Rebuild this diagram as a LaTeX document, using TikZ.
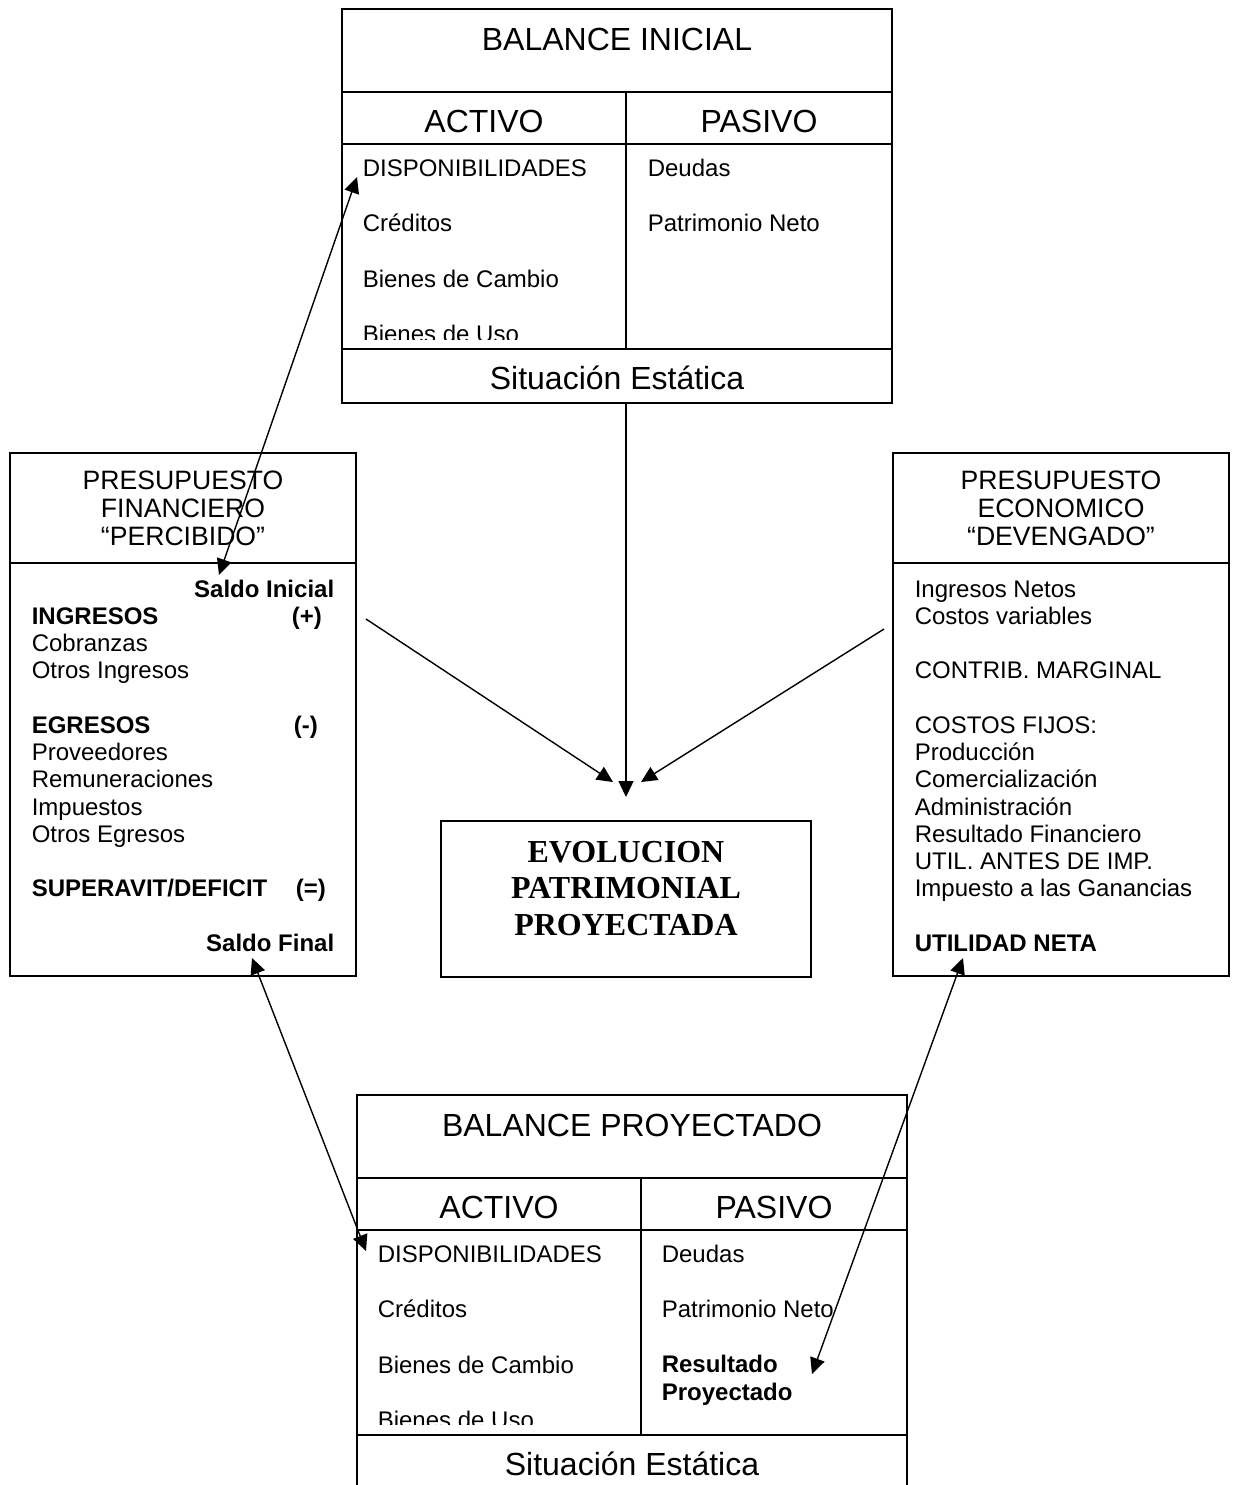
\documentclass[tikz,border=0pt]{standalone}
\usepackage{fontspec}
\setmainfont{Liberation Sans}
\newfontfamily\romanfont{Liberation Serif}
\usetikzlibrary{arrows.meta}

\begin{document}
\begin{tikzpicture}[x=0.5pt, y=-0.5pt, line width=0.8pt,
  item/.style={anchor=base west, inner sep=0pt, font=\fontsize{12}{14}\selectfont},
  itembold/.style={anchor=base west, inner sep=0pt, font=\fontsize{12}{14}\selectfont\bfseries},
  head/.style={anchor=base, inner sep=0pt, font=\fontsize{16}{19}\selectfont},
  boxtitle/.style={anchor=base, inner sep=0pt, font=\fontsize{13.3}{16}\selectfont},
  evol/.style={anchor=base, inner sep=0pt, font=\fontsize{16}{18}\romanfont\bfseries},
  arr/.style={-{Triangle[length=8pt,width=7.5pt]}, line width=0.7pt},
  dblarr/.style={{Triangle[length=8pt,width=7.5pt]}-{Triangle[length=8pt,width=7.5pt]}, line width=0.7pt}]
  \useasboundingbox (0,0) rectangle (1239,1485);

  % Balance inicial
  \draw (342,9) rectangle (892,403);
  \draw (342,92) -- (892,92);
  \draw (342,144) -- (892,144);
  \draw (342,349) -- (892,349);
  \draw (626,92) -- (626,349);
  \node[head] (ini) at (617,50) {BALANCE INICIAL};
  \node[head] (iniact) at (484,132) {ACTIVO};
  \node[head] (inipas) at (759,132) {PASIVO};
  \begin{scope}
    \clip (342,144) rectangle (626,339);
    \node[item] (inidisp) at (362,176) {DISPONIBILIDADES};
    \node[item] (inicred) at (362,231) {Créditos};
    \node[item] (inicamb) at (362,287) {Bienes de Cambio};
    \node[item] (iniuso) at (362,342) {Bienes de Uso};
  \end{scope}
  \node[item] (inideu) at (647,176) {Deudas};
  \node[item] (inipn) at (647,231) {Patrimonio Neto};
  \node[head] (inisit) at (617,389) {Situación Estática};

  % Presupuesto financiero
  \draw (10,453) rectangle (356,976);
  \draw (10,563) -- (356,563);
  \node[boxtitle] (fin1) at (183,489) {PRESUPUESTO};
  \node[boxtitle] (fin2) at (183,517) {FINANCIERO};
  \node[boxtitle] (fin3) at (183,545) {“PERCIBIDO”};
  \node[itembold, anchor=base east] (salini) at (335,597) {Saldo Inicial};
  \node[itembold] (ingr) at (31,624) {INGRESOS};
  \node[itembold] (mas) at (291,624) {(+)};
  \node[item] (cobr) at (31,651) {Cobranzas};
  \node[item] (otring) at (31,678) {Otros Ingresos};
  \node[itembold] (egr) at (31,733) {EGRESOS};
  \node[itembold] (menos) at (293,733) {(-)};
  \node[item] (prov) at (31,760) {Proveedores};
  \node[item] (remu) at (31,787) {Remuneraciones};
  \node[item] (imp) at (31,815) {Impuestos};
  \node[item] (otregr) at (31,842) {Otros Egresos};
  \node[itembold] (sup) at (31,896) {SUPERAVIT/DEFICIT};
  \node[itembold] (igual) at (295,896) {(=)};
  \node[itembold, anchor=base east] (salfin) at (335,951) {Saldo Final};

  % Presupuesto economico
  \draw (893,453) rectangle (1229,976);
  \draw (893,563) -- (1229,563);
  \node[boxtitle] (eco1) at (1061,489) {PRESUPUESTO};
  \node[boxtitle] (eco2) at (1061,517) {ECONOMICO};
  \node[boxtitle] (eco3) at (1061,545) {“DEVENGADO”};
  \node[item] (ingnet) at (914,597) {Ingresos Netos};
  \node[item] (cosvar) at (914,624) {Costos variables};
  \node[item] (contrib) at (914,678) {CONTRIB. MARGINAL};
  \node[item] (cosfij) at (914,733) {COSTOS FIJOS:};
  \node[item] (prod) at (914,760) {Producción};
  \node[item] (comer) at (914,787) {Comercialización};
  \node[item] (admin) at (914,815) {Administración};
  \node[item] (resfin) at (914,842) {Resultado Financiero};
  \node[item] (util) at (914,869) {UTIL. ANTES DE IMP.};
  \node[item] (impgan) at (914,896) {Impuesto a las Ganancias};
  \node[itembold] (utilneta) at (914,951) {UTILIDAD NETA};

  % Evolucion patrimonial
  \draw (441,821) rectangle (811,977);
  \node[evol] (ev1) at (626,862) {EVOLUCION};
  \node[evol] (ev2) at (626,898) {PATRIMONIAL};
  \node[evol] (ev3) at (626,935) {PROYECTADA};

  % Balance proyectado
  \draw (357,1095) rectangle (907,1489);
  \draw (357,1178) -- (907,1178);
  \draw (357,1230) -- (907,1230);
  \draw (357,1435) -- (907,1435);
  \draw (641,1178) -- (641,1435);
  \node[head] (proy) at (632,1136) {BALANCE PROYECTADO};
  \node[head] (proyact) at (499,1218) {ACTIVO};
  \node[head] (proypas) at (774,1218) {PASIVO};
  \begin{scope}
    \clip (357,1230) rectangle (641,1424);
    \node[item] (proydisp) at (377,1262) {DISPONIBILIDADES};
    \node[item] (proycred) at (377,1317) {Créditos};
    \node[item] (proycamb) at (377,1373) {Bienes de Cambio};
    \node[item] (proyuso) at (377,1428) {Bienes de Uso};
  \end{scope}
  \node[item] (proydeu) at (661,1262) {Deudas};
  \node[item] (proypn) at (661,1317) {Patrimonio Neto};
  \node[itembold] (res1) at (661,1372) {Resultado};
  \node[itembold] (res2) at (661,1400) {Proyectado};
  \node[head] (proysit) at (632,1475) {Situación Estática};

  % flechas hacia la evolucion
  \coordinate (inibot) at (626,403);
  \coordinate (fintail) at (366,619);
  \coordinate (ecotail) at (884,629);
  \coordinate (evtipl) at (613,782);
  \coordinate (evtipm) at (626,797);
  \coordinate (evtipr) at (641,782);
  \draw[arr] (inibot) -- (evtipm);
  \draw[arr] (fintail) -- (evtipl);
  \draw[arr] (ecotail) -- (evtipr);

  % flechas dobles
  \coordinate (dispini) at (357,177);
  \coordinate (salinitip) at (219,575);
  \coordinate (salfintip) at (252,958);
  \coordinate (dispproy) at (366,1251);
  \coordinate (utiltip) at (963,958);
  \coordinate (restip) at (812,1374);
  \draw[dblarr] (dispini) -- (salinitip);
  \draw[dblarr] (salfintip) -- (dispproy);
  \draw[dblarr] (utiltip) -- (restip);
\end{tikzpicture}
\end{document}
